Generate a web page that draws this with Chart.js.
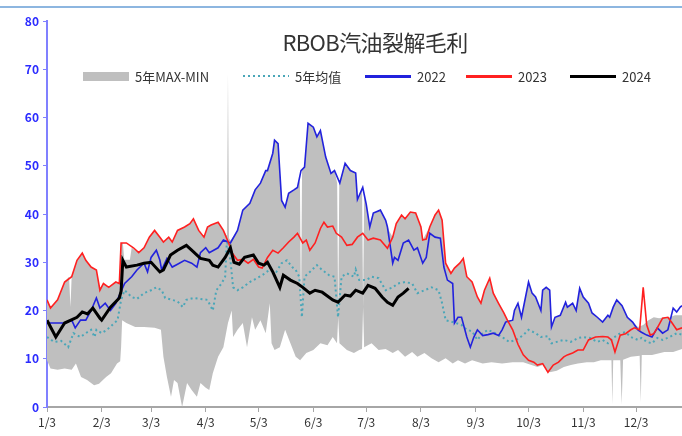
<!DOCTYPE html>
<html><head><meta charset="utf-8">
<script src="https://cdn.jsdelivr.net/npm/chart.js@4"></script>
<style>
html,body{margin:0;padding:0;background:#fff;}
#wrap{position:relative;width:682px;height:436px;overflow:hidden;}
#topline{position:absolute;left:0;top:6px;width:682px;height:2px;background:#8db6e0;}
#title{position:absolute;left:0;width:750px;top:25px;text-align:center;font:22px 'Noto Sans CJK SC',sans-serif;color:#333;letter-spacing:-0.6px;}
.item{position:absolute;top:68px;height:16px;display:flex;align-items:center;font:13px 'Liberation Sans Narrow','Noto Sans CJK SC',sans-serif;color:#333;white-space:nowrap;}
.sw{display:inline-block;width:46px;margin-right:6px;}
</style></head>
<body><div id="wrap">
<canvas id="c" width="682" height="436"></canvas>
<div id="topline"></div>
<div id="title">RBOB汽油裂解毛利</div>
<div class="item" style="left:83px"><span class="sw" style="height:9px;background:#bfbfbf"></span>5年MAX-MIN</div>
<div class="item" style="left:243px"><span class="sw" style="height:2px;background:repeating-linear-gradient(to right,#4aa6b8 0 2px,transparent 2px 5px)"></span>5年均值</div>
<div class="item" style="left:365px"><span class="sw" style="height:3px;background:#2222dd"></span>2022</div>
<div class="item" style="left:466px"><span class="sw" style="height:3px;background:#ff2020"></span>2023</div>
<div class="item" style="left:570px"><span class="sw" style="height:3px;background:#000"></span>2024</div>
</div>
<script>
const monthDays = [0,31,59,90,120,151,181,212,243,273,304,334];
const monthLabels = ['1/3','2/3','3/3','4/3','5/3','6/3','7/3','8/3','9/3','10/3','11/3','12/3'];

const bandMaxDays = [0,2,6,10,12.5,13.3,14,17,20,22,25,28,30,32,35,39,41,42,43,43.8,47,48,52,55,58,61,64,66,69,71,74,78,81,83,86,89,91,93,97,100,102,102.6,103.2,104,108,111,115,118,121,124,125,128,129,131,133,135,137,140,142,143.4,144,144.6,146,148,151,153,155,158,161,163,164.5,165.1,165.7,169,172,175,176,178.6,179.2,179.8,181,183,185,189,192,194,196,198,201,203,206,209,212,213,215,217,220,222,224,226,229,231,234,236,238,241,244,246,248,251,253,256,259,261,264,265,267,269,273,275,277,280,281,283,285,286,288,291,294,295,298,300,302,304,307,309,312,315,318,319,321,323,326,329,332,335,338,341,344,347,350,353,356,360];
const bandMax = [22.2,20.5,22.2,25.9,27,20.7,27.2,30.4,31.9,30.4,29,28.4,24.2,25.6,24.8,25.9,25.6,34,34,30.5,30.5,33,32,33,35.2,36.6,35.2,34.2,35.2,34.2,36.6,37.3,38,39,36.6,35.2,37.3,37.7,38.3,36.6,35.5,69,35,34.5,36.6,40.8,42.2,45,46.4,49,49,52.6,55.3,54.6,42.8,41.4,44.3,45,45.5,47,18.6,49,49.7,58.8,58,56,57.3,51.8,48.4,49,46.4,18.6,46.4,50.5,49,48.5,43,45.5,20.7,44,42,37.3,40.2,40.8,38.7,36.5,35.2,38,39.8,39,40.4,40.2,37.3,34.6,36,37.3,39.8,40.8,38.7,29.8,27.7,28.8,29.8,30.8,27,25.9,22.8,21.5,24.2,26.7,23.6,21.5,19.5,18,18,20,21.5,18.6,25.9,23.6,22.8,20,24.2,24.8,24.2,16.6,18.6,19,21.7,20.7,21.5,20,24.6,22.8,21.5,19.5,18.6,17.6,19,18.6,20.7,22.2,21,18.6,17.6,16.6,17,18,18.6,18.4,18.6,18.6,19,19];

const bandMinDays = [0,2,6,10,14,16.4,19.3,22.7,26.7,29.5,33.5,36.3,39.7,41.5,42,42.6,45,50,55,61,64.6,66,68,70.3,72,74,76.6,79.4,82,85,87,90,92,94,97,100,102.6,104.7,105.5,108,111,113.4,116.2,118,121,124,126.3,127.3,129,132,135,138,141,143.5,147,151,155,159,162,164.4,165.1,165.8,170,174,177,178.6,179.2,179.8,184,188,192,196,199,203,207,210,214,218,222,226,230,233,237,241,247,252,258,264,270,278,281,285,289,293,297,301,306,310,314,320,320.5,321,325,325.8,326.6,331,336,336.6,337.2,343,350,355,360];
const bandMin = [9.7,8,7.7,8,7.7,9,6.2,5.6,4.5,4.8,6.2,7,9,9.5,12.4,18,17.4,16.6,16.6,16.4,16,10.4,6.2,2.1,5.6,5,0,5,3.5,2.1,5,4,3.5,7,10.4,12.4,17.4,20,14.5,16,17.4,12.4,18.6,16,18,15.3,21.5,13.2,11.8,12.4,16,13.2,10.4,9.7,11.2,11.8,13.2,12.8,14.5,13.2,18.6,13.2,11.8,11.2,11.8,12,20.7,12.4,13.2,11.8,12,11.2,11.8,10.4,11.4,10.4,11.2,10.1,9.3,10.1,9,9.7,9,9.7,9,9.3,9,9.3,9.3,8.3,8.7,7.2,7.5,8.3,8.7,9,9.3,9.3,9.7,9.7,0.5,9.7,9.7,0.5,9.8,10.4,10.6,1,10.8,10.8,11.4,11.4,12];

const avgDays = [0,4,8,12,15,19,22,25,27,28,31,34,37,40,42,44,48,51,55,59,62,65,67,71,74,77,79,83,87,91,94,96,99,101,102,104,105.5,108,111,115,119,122,126,130,133,136,139,141,143,144.5,146,149,153,156,160,163,165,167,170,174,175,177,181,184,188,192,196,199,203,207,210,214,218,222,224,226,230,232,235,238,241,244,247,250,254,258,262,266,270,273,277,280,284,286,289,293,297,301,304,308,312,315,318,321,325,328,331,335,337,340,343,346,349,353,357,360];
const avgVals = [14.5,13.5,13.7,12.4,15.3,14.5,15.3,16,14.5,16,15.3,16,17,18,22.2,24.2,22.8,22.4,23.6,24.2,24.8,24.2,22.6,22.2,21.9,20.7,22.2,22.6,22.4,22.2,20,24.2,25.6,27,34.6,30.4,24.8,24.2,24.8,25.9,26.7,27.3,28.4,28,29.8,30.4,29,28.4,27,18.6,27,28,29.4,28.4,27.3,27,18.6,27,27.7,27,28.5,26.3,26.3,27,26.7,24.2,24.8,25.6,25.9,25.6,23.6,24.2,24.8,24.2,21.5,18,17.6,17.4,17,16,15.7,13.9,15.3,16,15.3,14.5,13.5,13.9,14.9,16,15.3,14.5,14.7,13.2,13.5,13.9,13.5,14.3,14.5,14.3,13.5,13.9,13.2,14.3,15.3,15.5,14.5,13.9,14.3,13.5,13.2,14.3,13.9,14.5,15.3,15];

const days2022 = [0,10,14,16,19,22,25,28,30,33,36,39,44,48,51,55,57,59,62,64,65,68,71,74,78,82,85,87,90,92,97,100,104,108,111,115,118,121,124,125,128,129,131,133,135,137,140,142,144,146,148,151,153,155,158,161,163,166,169,172,175,176,179,181,183,185,189,192,193,196,197,199,202,205,208,210,213,215,217,220,223,225,227,230,231,233,235,238,240,242,244,247,250,253,256,258,260,264,265,267,269,273,275,277,280,281,283,285,286,288,291,294,295,298,300,302,304,307,309,312,315,318,319,321,323,326,329,332,335,337,340,343,346,349,352,355,357,359,360];
const vals2022 = [17.4,17.4,18,16.4,18,18,20,22.6,20.5,21.5,20,21.5,25.6,27,28.4,29.8,28,31,32.5,30.4,28.4,30.8,29,29.6,30.4,29.8,29,32,33,32,33,34.6,34,36.6,40.8,42.2,45,46.4,49,49,52.6,55.3,54.6,42.8,41.4,44.3,45,45.5,49,49.7,58.8,58,56,57.3,51.8,48.4,49,46.4,50.5,49,48.5,43,45.5,42,37.3,40.2,40.8,38.7,37.3,29.8,31,30.4,34,34.6,32.5,33,29.8,31,36,35.2,35,29,26.3,25.6,17.4,18.6,18.6,14.5,12.4,14.5,16,14.8,15,15.3,14.8,16,17.6,18,20,21.5,18.6,25.9,23.6,22.8,20,24.2,24.8,24.2,16.6,18.6,19,21.7,20.7,21.5,20,24.6,22.8,21.5,19.5,18.6,17.6,19,18.6,20.7,22.2,21,18.6,17.6,16,15.5,14.9,14.5,16.4,15.3,16,20.5,19.7,20.7,21];

const days2023 = [0,2,6,10,14,17,20,22,25,28,30,32,35,39,41,42,45,49,52,55,58,61,64,66,69,71,74,78,81,83,86,89,91,93,97,100,103,105,108,111,114,117,120,122,125,128,131,134,137,140,142,145,147,149,152,155,157,159,162,164,167,170,173,176,179,182,185,189,193,196,198,201,203,206,209,212,213,215,217,220,222,224,226,229,231,234,236,238,241,244,246,248,251,253,256,259,261,264,267,270,273,276,278,281,284,287,290,293,295,298,301,304,307,311,315,318,320,322,325,328,331,333,336,338,340,342,344,346,349,352,354,357,360];
const vals2023 = [22.2,20.5,22.2,25.9,27,30.4,31.9,30.4,29,28.4,24.2,25.6,24.8,25.9,25.6,34,34,33,32,33,35.2,36.6,35.2,34.2,35.2,34.2,36.6,37.3,38,39,36.6,35.2,37.3,37.7,38.3,36.6,34,31.9,30.4,30.6,29.8,30.6,29,28.8,31,32.5,31.9,33,34.2,35.2,36,34,34.6,32.5,34,37,38.3,37.3,37.5,36,35.2,33.5,33.7,35.2,36,34.6,35,34.6,32.9,35.2,38,39.8,39,40.4,40.2,37.3,34.6,34.8,37.3,39.8,40.8,38.7,29.8,27.7,28.8,29.8,30.8,27,25.9,22.8,21.5,24.2,26.7,23.6,21.5,19.5,18,16,13,10.8,9.7,9.3,8.7,9,7.2,8.7,9.3,10.4,10.8,11.2,11.8,11.8,13.9,14.5,14.6,14.5,13.9,11.4,14.9,15.2,16,16.4,16,24.8,17,14.9,15.2,16.4,18.4,18.6,17.6,16,16.4];

const days2024 = [0,5,10,17,20,23,26,30,31,36,41,42,43,45,51,55,59,64,66,70,74,79,82,87,92,94,97,101,104,106,109,112,117,120,123,125,128,132,134,138,142,145,149,152,156,162,165,169,172,175,179,182,186,190,193,196,199,202,205];
const vals2024 = [18,14.5,17.4,18.6,19.7,19.3,20.5,18.4,18,20.7,22.6,24,30.4,29,29.4,29.8,30,28,28.4,31.5,32.5,33.5,32.5,30.8,30.4,29.4,29,31,33,30,29.6,31,31.5,29.8,29.4,30,28,24.8,27.3,26.3,25.6,24.8,23.6,24.2,23.8,22.2,21.7,23.2,23,24.2,23.6,25.2,24.6,22.8,21.7,21.1,22.8,23.6,24.6];

const pts = (d, v) => d.map((x, i) => ({x: x, y: v[i]}));
const FONT = "'Liberation Sans Narrow','Noto Sans CJK SC',sans-serif";

new Chart(document.getElementById('c'), {
  type: 'line',
  data: {
    datasets: [
      {label: '5年MAX-MIN', data: pts(bandMaxDays, bandMax), borderColor: 'rgba(0,0,0,0)', borderWidth: 1, backgroundColor: '#bfbfbf', fill: '+1', pointRadius: 0, order: 10},
      {label: 'min', data: pts(bandMinDays, bandMin), borderColor: 'rgba(0,0,0,0)', borderWidth: 1, fill: false, pointRadius: 0, order: 11},
      {label: '5年均值', data: pts(avgDays, avgVals), borderColor: '#4aa6b8', borderDash: [2, 3], borderWidth: 2, fill: false, pointRadius: 0, order: 4},
      {label: '2022', data: pts(days2022, vals2022), borderColor: '#2222dd', borderWidth: 1.6, fill: false, pointRadius: 0, order: 3},
      {label: '2023', data: pts(days2023, vals2023), borderColor: '#ff2020', borderWidth: 1.6, fill: false, pointRadius: 0, order: 2},
      {label: '2024', data: pts(days2024, vals2024), borderColor: '#000000', borderWidth: 3, fill: false, pointRadius: 0, order: 1}
    ]
  },
  options: {
    responsive: false,
    animation: false,
    layout: {padding: {top: 21, right: 0, left: 0, bottom: 0}},
    plugins: {legend: {display: false}, title: {display: false}, tooltip: {enabled: false}},
    scales: {
      x: {
        type: 'linear', min: 0, max: 360,
        afterBuildTicks: s => { s.ticks = monthDays.map(v => ({value: v})); },
        afterFit: s => { s.height = 29; },
        ticks: {autoSkip: false, maxRotation: 0, padding: 3, color: '#333', font: {family: FONT, size: 12},
          callback: v => { const i = monthDays.indexOf(v); return i >= 0 ? monthLabels[i] : ''; }},
        grid: {drawOnChartArea: false, tickLength: 5, color: '#a6a6a6'},
        border: {color: '#a6a6a6', width: 2}
      },
      y: {
        min: 0, max: 80,
        afterFit: s => { s.width = 47; },
        ticks: {stepSize: 10, color: '#2b2bff', padding: 4, font: {family: FONT, size: 12, weight: 'bold'}},
        grid: {drawOnChartArea: false, tickLength: 4, color: '#8080ff'},
        border: {color: '#8080ff', width: 2}
      }
    }
  }
});
</script>
</body></html>
